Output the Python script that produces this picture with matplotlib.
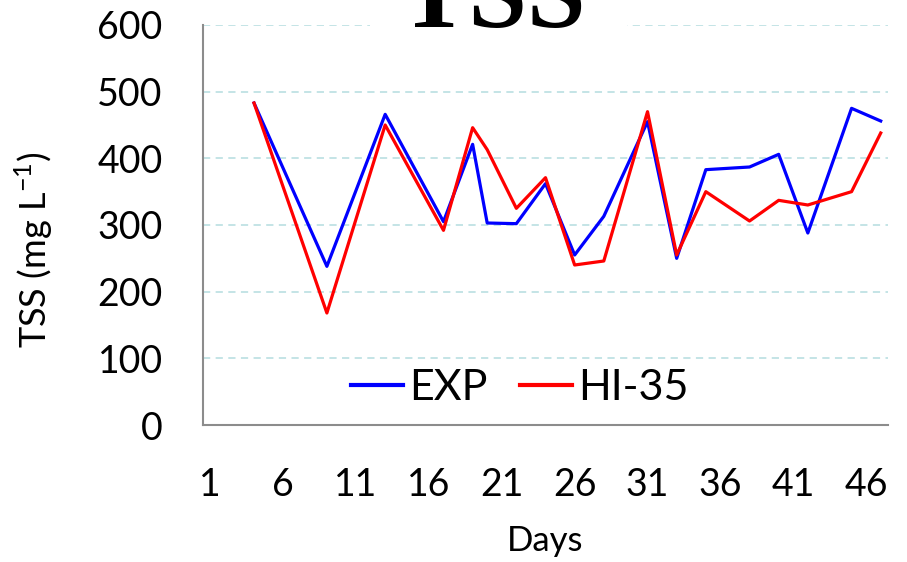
import numpy as np
import matplotlib.pyplot as plt
from matplotlib import patches

# sampling days and TSS values (mg/L)
days = [4, 9, 13, 17, 19, 20, 22, 24, 26, 28, 31, 33, 35, 38, 40, 42, 45, 47]
exp_tss = [483, 238, 466, 305, 421, 303, 302, 362, 255, 313, 455, 250, 383, 387, 406, 288, 475, 456]
hi35_tss = [483, 168, 450, 292, 446, 413, 325, 371, 240, 246, 470, 255, 350, 306, 337, 330, 350, 438]

x_ticks = list(range(1, 47, 5))
y_ticks = [0, 100, 200, 300, 400, 500, 600]

tick_font = 'Lato'
grid_col = '#BFE2E4'
axis_col = '#8C8C8C'

fig = plt.figure(figsize=(9.07, 5.62), dpi=100)
ax = fig.add_axes([203/907, 1 - 425/562, 685/907, 400/562])

ax.plot(days, exp_tss, color='#0000FF', lw=2.3, label='EXP', zorder=3)
ax.plot(days, hi35_tss, color='#FF0000', lw=2.3, label='HI-35', zorder=4)

ax.set_xlim(0.5, 47.5)
ax.set_ylim(0, 600)
ax.set_xticks(x_ticks)
ax.set_yticks(y_ticks)
ax.tick_params(axis='both', length=0, labelsize=27)
ax.tick_params(axis='x', pad=30)
ax.tick_params(axis='y', pad=29)
for lab in ax.get_xticklabels() + ax.get_yticklabels():
    lab.set_family(tick_font)

ax.yaxis.grid(True, color=grid_col, lw=1.3, ls=(0, (4, 3)))
ax.set_axisbelow(True)
for s in ['top', 'right']:
    ax.spines[s].set_visible(False)
for s in ['left', 'bottom']:
    ax.spines[s].set_color(axis_col)
    ax.spines[s].set_linewidth(1.5)

ax.set_ylabel(r'TSS (mg L$^{\mathregular{-1}}$)', fontsize=26, family=tick_font)
ax.yaxis.set_label_coords((55 - 203) / 685, (425 - 250) / 400)
ax.set_xlabel('Days', fontsize=25, family=tick_font, labelpad=16)

leg = ax.legend(loc='center', bbox_to_anchor=((520 - 203) / 685, (425 - 388) / 400), ncol=2,
                frameon=False, prop={'family': tick_font, 'size': 31}, handlelength=1.2,
                handletextpad=0.15, columnspacing=0.75)
for h in leg.get_lines():
    h.set_linewidth(3)

# title sits on a white patch over the top gridline
fig.patches.append(patches.Rectangle((370/907, 1 - 50/562), 257/907, 50/562,
                                     transform=fig.transFigure, facecolor='white',
                                     edgecolor='none', zorder=1))
fig.text(492/907, 1 - 27/562, 'TSS', ha='center', va='baseline', fontsize=76,
         family='Liberation Serif', weight='bold', zorder=2)

fig.savefig('out.png', dpi=100)
